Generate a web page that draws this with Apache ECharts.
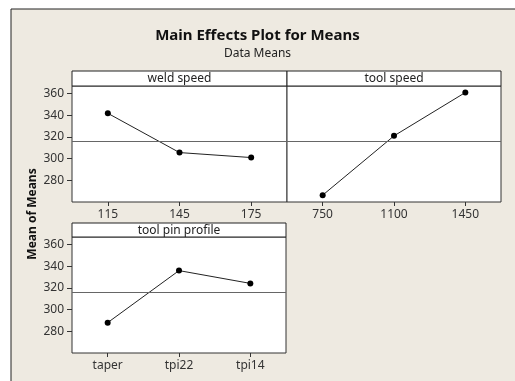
<!DOCTYPE html>
<html><head><meta charset="utf-8">
<script src="https://cdn.jsdelivr.net/npm/echarts@6/dist/echarts.min.js"></script>
<style>html,body{margin:0;padding:0;background:#fff}#c{width:515px;height:381px}</style>
</head><body><div id="c"></div>
<script>
const weldCats = ['115','145','175'];
const weldVals = [341.8, 305.6, 301.0];
const toolCats = ['750','1100','1450'];
const toolVals = [266.3, 321.0, 361.0];
const pinCats = ['taper','tpi22','tpi14'];
const pinVals = [288.0, 336.0, 324.2];
const yTicks = [280, 300, 320, 340, 360];
const panelTitles = ['weld speed', 'tool speed', 'tool pin profile'];

const allVals = weldVals.concat(toolVals, pinVals);
const grandMean = allVals.reduce((a,b)=>a+b,0)/allVals.length;

const FONT = 'Noto Sans';
const chart = echarts.init(document.getElementById('c'), null, {renderer:'canvas'});

const grids = [
  {left:72, top:86, width:215, height:116},
  {left:287, top:86, width:214, height:116},
  {left:72, top:237, width:214, height:116}
];
const catsList = [weldCats, toolCats, pinCats];
const valsList = [weldVals, toolVals, pinVals];

function xAxis(i){
  return {type:'category', gridIndex:i, data:catsList[i], boundaryGap:true,
    axisLine:{show:false}, axisTick:{show:true, alignWithLabel:true, length:4, lineStyle:{color:'#333'}},
    axisLabel:{color:'#333', fontFamily:FONT, fontSize:12, margin:7}, splitLine:{show:false}};
}
function yAxis(i, showLabels){
  return {type:'value', gridIndex:i, min:260, max:367, interval:20,
    axisLine:{show:false},
    axisTick:{show:showLabels, length:5, lineStyle:{color:'#333'},
      customValues: yTicks},
    axisLabel:{show:showLabels, color:'#333', fontFamily:FONT, fontSize:12, margin:8,
      customValues: yTicks},
    splitLine:{show:false}};
}
function series(i){
  return {type:'line', xAxisIndex:i, yAxisIndex:i, data:valsList[i],
    symbol:'circle', symbolSize:6, itemStyle:{color:'#000'},
    lineStyle:{color:'#222', width:1}, silent:true, animation:false,
    markLine:{silent:true, symbol:'none', label:{show:false},
      lineStyle:{color:'#666', width:1, type:'solid'},
      data:[{yAxis:grandMean}]}};
}

const graphic = [
  {type:'rect', z:-10, shape:{x:11, y:9, width:520, height:390},
   style:{fill:'#EEEAE1', stroke:'#222', lineWidth:1}},
  {type:'text', left:'center', top:28, style:{text:'Main Effects Plot for Means', font:'bold 15px "Noto Sans"', fill:'#111'}},
  {type:'text', left:'center', top:48, style:{text:'Data Means', font:'12px "Noto Sans"', fill:'#222'}},
  {type:'text', x:33, y:214, rotation:Math.PI/2, style:{text:'Mean of Means', font:'bold 12px "Noto Sans"', fill:'#111', align:'center', verticalAlign:'middle'}},
];
// header strips
const heads = [[72,71,215,15],[287,71,214,15],[72,223,214,14]];
heads.forEach((h,i)=>{
  graphic.push({type:'rect', z:5, shape:{x:h[0], y:h[1], width:h[2], height:h[3]},
    style:{fill:'#fff', stroke:'#222', lineWidth:1}});
  graphic.push({type:'text', z:6, x:h[0]+h[2]/2, y:h[1]+h[3]/2+0.5,
    style:{text:panelTitles[i], font:'12px "Noto Sans"', fill:'#222', align:'center', verticalAlign:'middle'}});
});

chart.setOption({
  animation:false,
  backgroundColor:'#fff',
  grid: grids.map(g=>Object.assign({show:true, backgroundColor:'#fff', borderColor:'#333', borderWidth:1}, g)),
  xAxis:[xAxis(0), xAxis(1), xAxis(2)],
  yAxis:[yAxis(0,true), yAxis(1,false), yAxis(2,true)],
  series:[series(0), series(1), series(2)],
  graphic: graphic
});
</script></body></html>
